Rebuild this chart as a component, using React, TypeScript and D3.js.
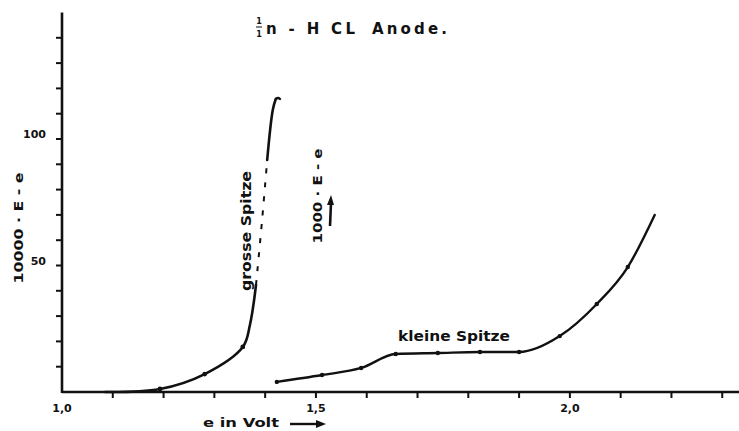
import React from 'react'
import * as d3 from 'd3'

const W = 739
const H = 431

// grosse Spitze, plotted as 10000 * (E - e)
const bigE = [1.085, 1.193, 1.281, 1.356, 1.37, 1.382, 1.394, 1.404, 1.415, 1.421]
const bigV = [0, 1.2, 7.1, 17.8, 26.5, 42.3, 68, 91.7, 111.5, 115.9]
const bigDots = [1, 2, 3]

// kleine Spitze, plotted as 1000 * (E - e)
const smallE = [1.423, 1.512, 1.589, 1.657, 1.74, 1.823, 1.9, 1.98, 2.053, 2.114, 2.167]
const smallV = [4, 6.7, 9.5, 15, 15.4, 15.8, 15.8, 22.1, 34.8, 49.4, 70]
const smallDots = [0, 1, 2, 3, 4, 5, 6, 7, 8, 9]

const xTickVals = [1.1, 1.2, 1.3, 1.4, 1.5, 1.6, 1.7, 1.8, 1.9, 2.0, 2.1, 2.2, 2.3]
const xLabelVals = [1.0, 1.5, 2.0]
const xLabels = ['1,0', '1,5', '2,0']
const yTickVals = [10, 20, 30, 40, 50, 60, 70, 80, 90, 100, 110, 120, 130, 140]
const yLabelVals = [50, 100]
const yLabels = ['50', '100']

const FONT = '"DejaVu Sans", sans-serif'

export default function App() {
  const x = d3.scaleLinear().domain([1, 2.333]).range([62, 739])
  const y = d3.scaleLinear().domain([0, 100]).range([392, 139])

  const line = d3.line<number>()
    .x(i => x(bigE[i]))
    .y(i => y(bigV[i]))
    .curve(d3.curveCatmullRom.alpha(0.5))
  const line2 = d3.line<number>()
    .x(i => x(smallE[i]))
    .y(i => y(smallV[i]))
    .curve(d3.curveMonotoneX)

  const solidA = [0, 1, 2, 3, 4, 5]
  const dashed = [5, 6, 7]
  const solidB = [7, 8, 9]
  const all2 = smallE.map((_, i) => i)

  const stroke = '#111'

  return (
    <div style={{ position: 'absolute', left: 0, top: 0 }}>
      <svg width={W} height={H} style={{ display: 'block', background: '#fff' }}>
        {/* axes */}
        <line x1={x(1)} x2={W} y1={y(0)} y2={y(0)} stroke={stroke} strokeWidth={2.6} />
        <line x1={x(1)} x2={x(1)} y1={y(0) + 1} y2={y(150)} stroke={stroke} strokeWidth={2.6} />
        {xTickVals.map(v => (
          <line key={v} x1={x(v)} x2={x(v)} y1={y(0)} y2={y(0) + 6} stroke={stroke} strokeWidth={2} />
        ))}
        {yTickVals.map(v => (
          <line key={v} x1={x(1) - 6} x2={x(1)} y1={y(v)} y2={y(v)} stroke={stroke} strokeWidth={2} />
        ))}
        {xLabelVals.map((v, i) => (
          <text key={v} x={x(v)} y={y(0) + 20} textAnchor="middle" fontFamily={FONT}
            fontWeight="bold" fontSize={11} fill={stroke}>{xLabels[i]}</text>
        ))}
        {yLabelVals.map((v, i) => (
          <text key={v} x={x(1) - 16} y={y(v) - 1} textAnchor="end" fontFamily={FONT}
            fontWeight="bold" fontSize={11} fill={stroke}>{yLabels[i]}</text>
        ))}

        {/* curves */}
        <path d={line(solidA) || ''} fill="none" stroke={stroke} strokeWidth={2.6} strokeLinecap="round" />
        <path d={line(dashed) || ''} fill="none" stroke={stroke} strokeWidth={2} strokeDasharray="5 9" />
        <path d={line(solidB) || ''} fill="none" stroke={stroke} strokeWidth={2.6} strokeLinecap="round" />
        <path d="M276,99 Q278,97 280,99" fill="none" stroke={stroke} strokeWidth={2.4} strokeLinecap="round" />
        {bigDots.map(i => (
          <circle key={i} cx={x(bigE[i])} cy={y(bigV[i])} r={2.4} fill={stroke} />
        ))}
        <path d={line2(all2) || ''} fill="none" stroke={stroke} strokeWidth={2.4} strokeLinecap="round" />
        {smallDots.map(i => (
          <circle key={i} cx={x(smallE[i])} cy={y(smallV[i])} r={2.2} fill={stroke} />
        ))}

        {/* title */}
        <text x={259} y={24} textAnchor="middle" fontFamily={FONT} fontWeight="bold" fontSize={8} fill={stroke}>1</text>
        <line x1={256} x2={262} y1={27} y2={27} stroke={stroke} strokeWidth={1} />
        <text x={259} y={37} textAnchor="middle" fontFamily={FONT} fontWeight="bold" fontSize={8} fill={stroke}>1</text>
        <text x={266} y={34} fontFamily={FONT} fontWeight="bold" fontSize={15} fill={stroke}
          textLength={89} lengthAdjust="spacing">n - H CL</text>
        <text x={372} y={34} fontFamily={FONT} fontWeight="bold" fontSize={15} fill={stroke}
          textLength={75} lengthAdjust="spacing">Anode.</text>

        {/* curve labels */}
        <text transform="translate(251,231) rotate(-90)" textAnchor="middle" fontFamily={FONT}
          fontWeight="bold" fontSize={14} fill={stroke} textLength={120} lengthAdjust="spacingAndGlyphs">grosse Spitze</text>
        <text x={454} y={341} textAnchor="middle" fontFamily={FONT} fontWeight="bold" fontSize={14}
          fill={stroke} textLength={112} lengthAdjust="spacingAndGlyphs">kleine Spitze</text>

        {/* scale note for small curve */}
        <text transform="translate(322,196) rotate(-90)" textAnchor="middle" fontFamily={FONT}
          fontWeight="bold" fontSize={13} fill={stroke} textLength={95} lengthAdjust="spacingAndGlyphs">1000 · E - e</text>
        <line x1={330} x2={331} y1={226} y2={203} stroke={stroke} strokeWidth={2.6} />
        <path d="M327,205 L331,195 L334,205 Z" fill={stroke} />

        {/* y axis title */}
        <text transform="translate(23,228) rotate(-90)" textAnchor="middle" fontFamily={FONT}
          fontWeight="bold" fontSize={13} fill={stroke} textLength={111} lengthAdjust="spacingAndGlyphs">10000 · E - e</text>

        {/* x axis title */}
        <text x={203} y={427} fontFamily={FONT} fontWeight="bold" fontSize={12} fill={stroke}
          textLength={76} lengthAdjust="spacingAndGlyphs">e in Volt</text>
        <line x1={290} x2={318} y1={424} y2={424} stroke={stroke} strokeWidth={2.4} />
        <path d="M316,420 L326,424 L316,428 Z" fill={stroke} />
      </svg>
    </div>
  )
}
